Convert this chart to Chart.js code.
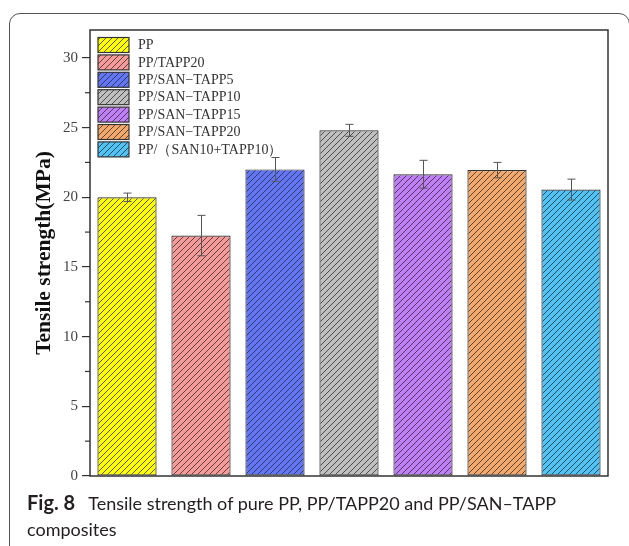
<!DOCTYPE html>
<html>
<head>
<meta charset="utf-8">
<script src="https://cdn.jsdelivr.net/npm/chart.js@4"></script>
<style>
  body { margin: 0; background: #fff; }
  #wrap { position: relative; width: 629px; height: 546px; overflow: hidden; }
  #panel { position: absolute; left: 9px; top: 13px; width: 621px; height: 545px;
           border: 1.5px solid #555; border-radius: 11px; box-sizing: border-box; }
  #grafico { position: absolute; left: 0; top: 0; }
  #legenda { position: absolute; left: 27px; top: 489px; width: 575px;
             font-family: Lato, "Open Sans", sans-serif; font-size: 18px; line-height: 26px; color: #231f20; }
  #legenda b { font-size: 20px; font-weight: bold; margin-right: 9px; }
</style>
</head>
<body>
<div id="wrap">
  <div id="panel"></div>
  <canvas id="grafico" width="629" height="490"></canvas>
  <div id="legenda"><b>Fig. 8</b> Tensile strength of pure PP, PP/TAPP20 and PP/SAN–TAPP composites</div>
</div>
<script>
const amostras = ['PP', 'PP/TAPP20', 'PP/SAN\u2212TAPP5', 'PP/SAN\u2212TAPP10', 'PP/SAN\u2212TAPP15', 'PP/SAN\u2212TAPP20', 'PP/\uFF08SAN10+TAPP10\uFF09'];
const resistencia = [20.0, 17.25, 22.0, 24.8, 21.65, 21.95, 20.55];
const desvio = [0.3, 1.45, 0.85, 0.43, 1.0, 0.55, 0.75];
const cores = ['#ffff00', '#f99a9a', '#6276fc', '#bfbfbf', '#c07efa', '#f5a86c', '#4fc3f7'];
const ticksY = [0, 5, 10, 15, 20, 25, 30];

// hachura diagonal "/"
function geraHachura(cor) {
    const c = document.createElement('canvas');
    c.width = 6; c.height = 6;
    const g = c.getContext('2d');
    g.fillStyle = cor;
    g.fillRect(0, 0, 6, 6);
    g.strokeStyle = 'rgba(40,40,40,0.85)';
    g.lineWidth = 0.9;
    g.beginPath();
    g.moveTo(0, 6); g.lineTo(6, 0);
    g.moveTo(-3, 3); g.lineTo(3, -3);
    g.moveTo(3, 9); g.lineTo(9, 3);
    g.stroke();
    return g.createPattern(c, 'repeat');
}
const hachuras = cores.map(geraHachura);

const pluginMoldura = {
    id: 'moldura',
    afterDatasetsDraw(chart) {
        const {ctx, chartArea: a, scales: {y}} = chart;
        const meta = chart.getDatasetMeta(0);
        ctx.save();
        // barras de erro
        ctx.strokeStyle = '#555';
        ctx.lineWidth = 1;
        meta.data.forEach((barra, i) => {
            const x = Math.round(barra.x) + 0.5;
            const y1 = y.getPixelForValue(resistencia[i] + desvio[i]);
            const y2 = y.getPixelForValue(resistencia[i] - desvio[i]);
            ctx.beginPath();
            ctx.moveTo(x, y1); ctx.lineTo(x, y2);
            ctx.moveTo(x - 4, y1); ctx.lineTo(x + 4, y1);
            ctx.moveTo(x - 4, y2); ctx.lineTo(x + 4, y2);
            ctx.stroke();
        });
        // ticks menores
        ctx.strokeStyle = '#333';
        ctx.lineWidth = 1.2;
        for (let v = 2.5; v < 32; v += 5) {
            const py = y.getPixelForValue(v);
            ctx.beginPath();
            ctx.moveTo(a.left - 5, py); ctx.lineTo(a.left, py);
            ctx.stroke();
        }
        // moldura
        ctx.lineWidth = 1.5;
        ctx.strokeStyle = '#333';
        ctx.strokeRect(a.left, a.top, a.right - a.left, a.bottom - a.top);
        // legenda dentro do grafico
        ctx.font = '14px "Liberation Serif", "Times New Roman", serif';
        ctx.textBaseline = 'middle';
        amostras.forEach((nome, i) => {
            const by = 37.5 + i * 17.4;
            ctx.fillStyle = hachuras[i];
            ctx.fillRect(98, by, 31, 15);
            ctx.lineWidth = 1.2;
            ctx.strokeStyle = '#333';
            ctx.strokeRect(98, by, 31, 15);
            ctx.fillStyle = '#333';
            ctx.fillText(nome, 138, by + 8);
        });
        ctx.restore();
    }
};

const grafico = new Chart(document.getElementById('grafico'), {
    type: 'bar',
    data: {
        labels: amostras,
        datasets: [{
            label: 'Tensile strength',
            data: resistencia,
            backgroundColor: hachuras,
            borderColor: '#333',
            borderWidth: 1.2,
            borderSkipped: false,
            barPercentage: 0.8,
            categoryPercentage: 1
        }]
    },
    options: {
        responsive: false,
        animation: false,
        layout: { padding: { top: 30, right: 21, bottom: 14, left: 0 } },
        plugins: { legend: { display: false }, tooltip: { enabled: false } },
        scales: {
            x: {
                ticks: { display: false },
                grid: { display: false },
                border: { display: false },
                afterFit: s => { s.height = 0; }
            },
            y: {
                min: 0,
                max: 32,
                afterBuildTicks: s => { s.ticks = ticksY.map(v => ({ value: v })); },
                afterFit: s => { s.width = 90; },
                ticks: {
                    padding: 4,
                    color: '#444',
                    font: { family: '"Liberation Serif", "Times New Roman", serif', size: 15 }
                },
                grid: { drawOnChartArea: false, tickLength: 8, color: '#333', lineWidth: 1.2 },
                border: { display: false },
                title: {
                    display: true,
                    text: 'Tensile strength(MPa)',
                    color: '#111',
                    padding: { top: 32 },
                    font: { family: '"Liberation Serif", "Times New Roman", serif', size: 21.5, weight: 'bold' }
                }
            }
        }
    },
    plugins: [pluginMoldura]
});
</script>
</body>
</html>
